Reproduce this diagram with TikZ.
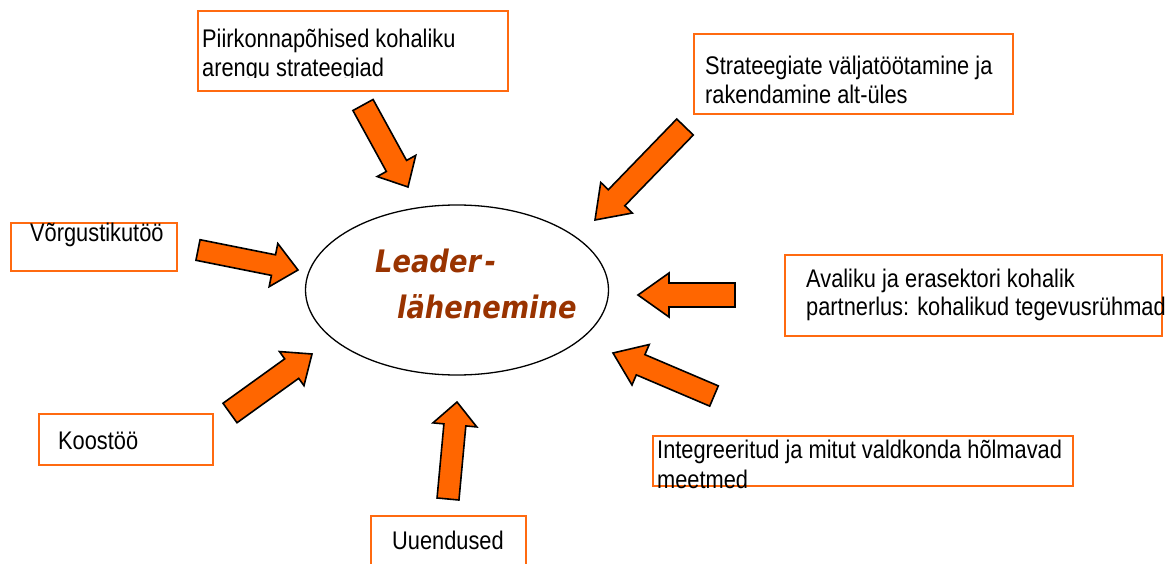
\documentclass[tikz,border=0pt]{standalone}
\usepackage{fontspec}
\setmainfont{Liberation Sans}[FakeStretch=0.855]
\newfontfamily\leaderfont{DejaVu Sans}[FakeStretch=0.88]
\usetikzlibrary{calc,shapes.geometric}
\definecolor{boxor}{HTML}{FF6A10}
\definecolor{arrowor}{HTML}{FF6600}
\definecolor{leadbrown}{HTML}{993300}
\newcommand\blockarrow[5]{%
  \coordinate (hb) at ($(#2)!#5pt!(#1)$);
  \draw[blk] ($(#1)!#3pt!90:(#2)$) -- ($(hb)!#3pt!-90:(#1)$) -- ($(hb)!#4pt!-90:(#1)$) -- (#2)
    -- ($(hb)!#4pt!90:(#1)$) -- ($(hb)!#3pt!90:(#1)$) -- ($(#1)!#3pt!-90:(#2)$) -- cycle;}
\begin{document}
\begin{tikzpicture}[x=1pt,y=-1pt,
  box/.style={draw=boxor, line width=1.6pt, inner sep=0pt, anchor=north west},
  lbl/.style={anchor=base west, inner sep=0pt, font=\fontsize{25.5}{29}\selectfont},
  blk/.style={fill=arrowor, draw=black, line width=1.6pt, line join=miter},
  leadtxt/.style={anchor=base west, inner sep=0pt, text=leadbrown,
    font=\leaderfont\bfseries\itshape\fontsize{31}{36}\selectfont}]
\clip (0,0) rectangle (1167,564);
\fill[white] (0,0) rectangle (1167,564);

% central ellipse
\node[draw, ellipse, line width=1.3pt, minimum width=303, minimum height=170, inner sep=0pt] (lead) at (457,290) {};
\node[leadtxt] (l1) at (375,272) {Leader\kern4pt-};
\node[leadtxt] (l2) at (397,318) {lähenemine};

% boxes
\node[box, minimum width=310, minimum height=80] (b1) at (197,10) {};
\node[lbl] (t1a) at (202,48) {Piirkonnapõhised kohaliku};
\begin{scope}
  \clip (197,10) rectangle (507,77.5);
  \node[lbl] (t1b) at (202,77) {arengu strateegiad};
\end{scope}

\node[box, minimum width=319, minimum height=80] (b2) at (693,33) {};
\node[lbl] (t2a) at (705,75) {Strateegiate väljatöötamine ja};
\node[lbl] (t2b) at (705,104) {rakendamine alt-üles};

\node[box, minimum width=166, minimum height=48] (b3) at (10,222) {};
\node[lbl] (t3) at (30,241) {Võrgustikutöö};

\node[box, minimum width=377, minimum height=81] (b4) at (784,254) {};
\node[lbl] (t4a) at (806,287) {Avaliku ja erasektori kohalik};
\node[lbl] (t4b) at (806,315) {partnerlus: kohalikud tegevusrühmad};

\node[box, minimum width=174, minimum height=51] (b5) at (38,413) {};
\node[lbl] (t5) at (58,449) {Koostöö};

\node[box, minimum width=155, minimum height=60] (b6) at (370,515) {};
\node[lbl] (t6) at (392,549) {Uuendused};

\node[box, minimum width=420, minimum height=50] (b7) at (652,435) {};
\node[lbl] (t7a) at (657,458) {Integreeritud ja mitut valdkonda hõlmavad};
\node[lbl] (t7b) at (657,488) {meetmed};

% block arrows: tail / tip coordinates
\coordinate (aT) at (363,105);  \coordinate (aH) at (408,187);
\coordinate (bT) at (685,127);  \coordinate (bH) at (595,220);
\coordinate (cT) at (198,250);  \coordinate (cH) at (298,270);
\coordinate (dT) at (735,295);  \coordinate (dH) at (638,295);
\coordinate (eT) at (714,396);  \coordinate (eH) at (613,353);
\coordinate (fT) at (448,499);  \coordinate (fH) at (457,402);
\coordinate (gT) at (230,413);  \coordinate (gH) at (312,354);

\blockarrow{aT}{aH}{11.5}{22}{24}
\blockarrow{bT}{bH}{11.5}{22}{31}
\blockarrow{cT}{cH}{10.5}{22}{25}
\blockarrow{dT}{dH}{12}{22}{31}
\blockarrow{eT}{eH}{11}{22}{30}
\blockarrow{fT}{fH}{11}{22}{23}
\blockarrow{gT}{gH}{12}{21}{25}
\end{tikzpicture}
\end{document}
